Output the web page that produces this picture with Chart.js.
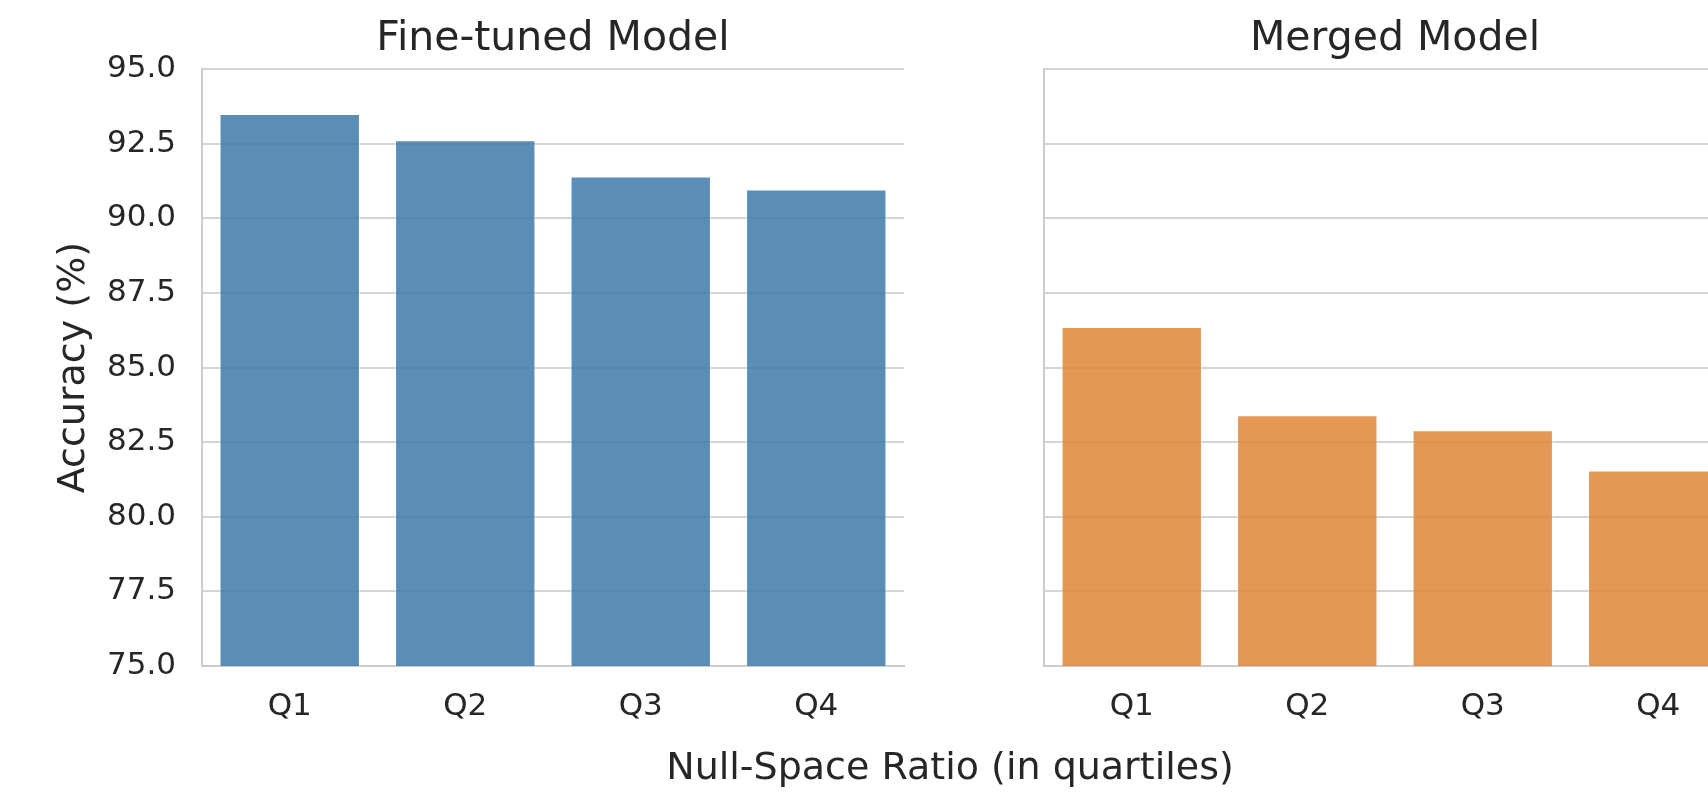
<!DOCTYPE html>
<html>
<head>
<meta charset="utf-8">
<script src="https://cdn.jsdelivr.net/npm/chart.js@4"></script>
<style>
  html, body { margin: 0; padding: 0; background: #fff; overflow: hidden; width: 1708px; height: 793px; }
  .panel { position: absolute; top: 0; height: 793px; }
  #leftPanel { left: 0; width: 910px; }
  #rightPanel { left: 1000px; width: 746px; }
  #xTitle {
    position: absolute; top: 747px; left: 950px; transform: translateX(-50%);
    font-family: "DejaVu Sans", sans-serif; font-size: 38px; line-height: 38px;
    color: #262626; white-space: nowrap;
  }
</style>
</head>
<body>
<div class="panel" id="leftPanel"><canvas id="fineTunedChart"></canvas></div>
<div class="panel" id="rightPanel"><canvas id="mergedChart"></canvas></div>
<div id="xTitle">Null-Space Ratio (in quartiles)</div>

<script>
// quartile categories and accuracy values
const quartiles = ['Q1', 'Q2', 'Q3', 'Q4'];
const fineTunedAcc = [93.5, 92.62, 91.4, 90.97];
const mergedAcc = [86.36, 83.4, 82.9, 81.55];

// shared y range
const yMin = 75;
const yMax = 95;
const yStep = 2.5;

const FONT = 'DejaVu Sans';
const TEXT = '#262626';

function makePanel(canvasId, title, values, color, showY) {
  const ctx = document.getElementById(canvasId).getContext('2d');
  return new Chart(ctx, {
    type: 'bar',
    data: {
      labels: quartiles,
      datasets: [{
        label: title,
        data: values,
        backgroundColor: color,
        borderColor: 'rgba(255, 255, 255, 0.5)',
        borderWidth: 1,
        categoryPercentage: 0.8,
        barPercentage: 1.0
      }]
    },
    options: {
      responsive: true,
      maintainAspectRatio: false,
      animation: false,
      layout: { padding: { left: 0, right: showY ? 6 : 0, top: 0, bottom: 0 } },
      scales: {
        x: {
          grid: { display: false, drawTicks: false },
          border: { color: '#cccccc', width: 2 },
          ticks: {
            color: TEXT,
            padding: 22,
            font: { family: FONT, size: 31 }
          },
          afterFit: (scale) => { scale.height = 127; }
        },
        y: {
          min: yMin,
          max: yMax,
          grid: { color: '#d4d4d4', lineWidth: 2, drawTicks: false },
          border: { color: '#cccccc', width: 2 },
          ticks: {
            display: showY,
            stepSize: yStep,
            color: TEXT,
            padding: 26,
            font: { family: FONT, size: 31 },
            callback: (v) => Number(v).toFixed(1)
          },
          title: {
            display: showY,
            text: 'Accuracy (%)',
            color: TEXT,
            font: { family: FONT, size: 38 },
            padding: { top: 51, bottom: 0 }
          },
          afterFit: (scale) => { scale.width = showY ? 202 : 44; }
        }
      },
      plugins: {
        legend: { display: false },
        tooltip: { enabled: false },
        title: {
          display: true,
          text: title,
          fullSize: false,
          color: TEXT,
          font: { family: FONT, size: 41, weight: 'normal' },
          padding: { top: 15, bottom: 5 }
        }
      }
    }
  });
}

makePanel('fineTunedChart', 'Fine-tuned Model', fineTunedAcc, 'rgba(62, 122, 169, 0.85)', true);
makePanel('mergedChart', 'Merged Model', mergedAcc, 'rgba(225, 134, 55, 0.85)', false);
</script>
</body>
</html>
